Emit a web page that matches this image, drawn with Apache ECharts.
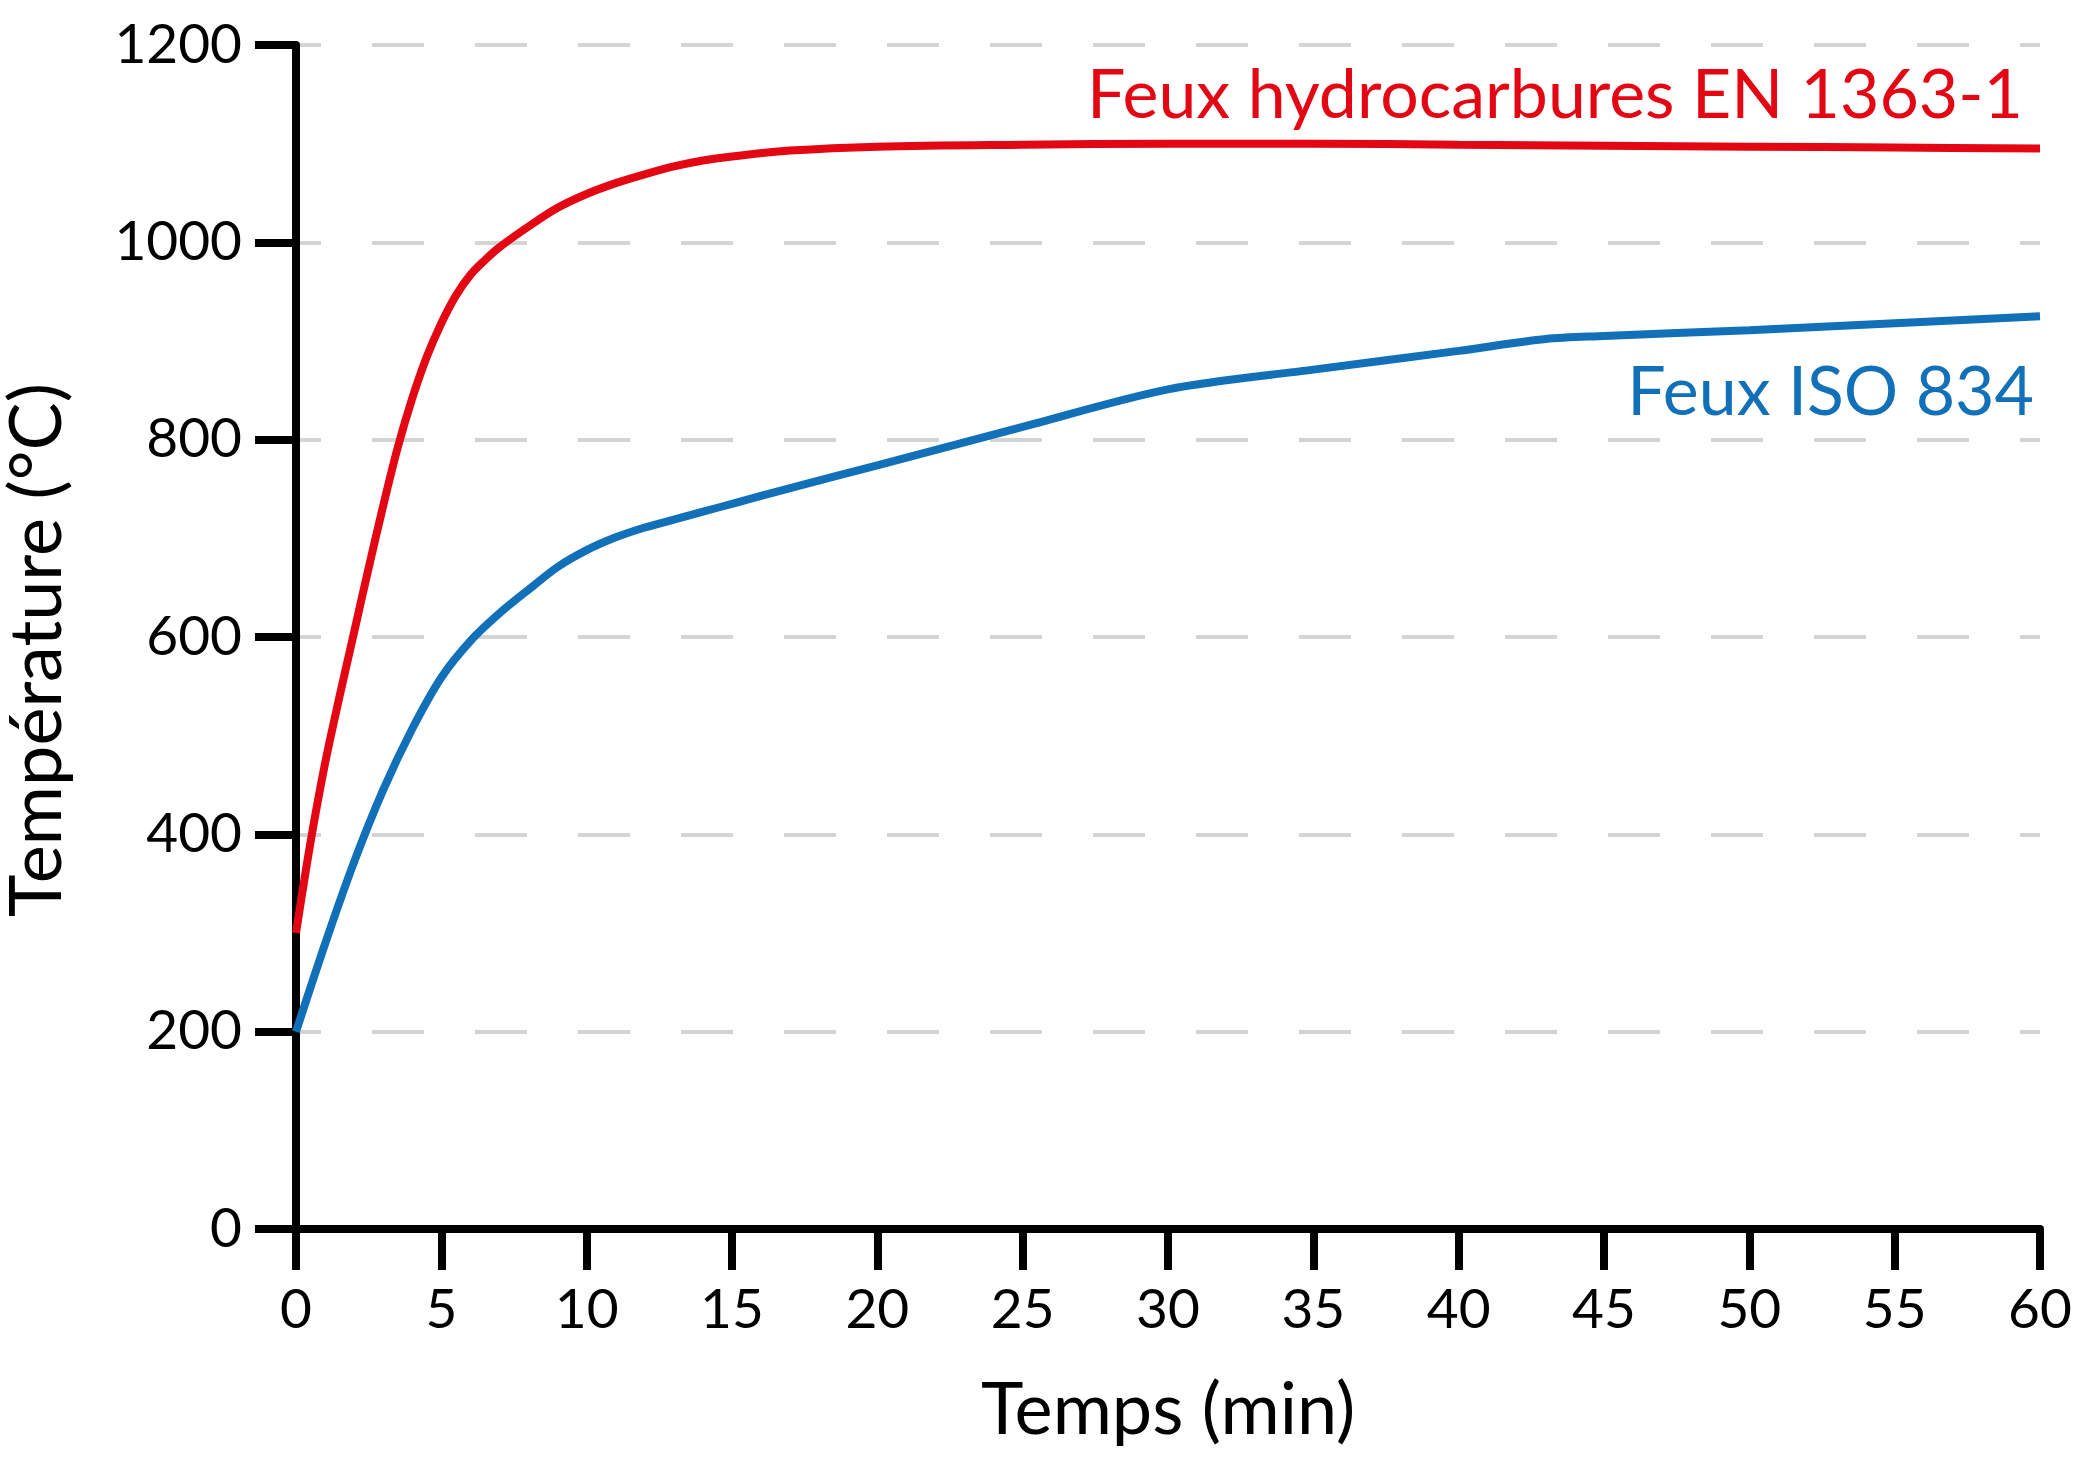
<!DOCTYPE html>
<html>
<head>
<meta charset="utf-8">
<script src="https://cdn.jsdelivr.net/npm/echarts@6/dist/echarts.min.js"></script>
<style>
html,body{margin:0;padding:0;background:#fff;}
#chart{width:2080px;height:1462px;}
</style>
</head>
<body>
<div id="chart"></div>
<script>
// ---- Data ----
const hydroTimes = [0, 0.5, 1, 1.5, 2, 2.5, 3, 3.5, 4, 4.5, 5, 5.5, 6, 6.5, 7, 8, 9, 10, 11, 12, 13, 14, 15, 17, 20, 25, 30, 35, 40, 45, 50, 55, 60];
const hydroTemps = [300, 392, 472, 540, 605, 670, 733, 792, 842, 884, 918, 946, 967, 982, 995, 1016, 1035, 1049, 1060, 1069, 1077, 1083, 1087, 1093, 1097, 1099, 1100, 1100, 1099, 1098, 1097, 1096, 1095];

const isoTimes = [0, 1, 2, 3, 4, 5, 6, 7, 8, 9, 10, 11, 12, 13, 14, 15, 17, 20, 25, 30, 35, 40, 43, 45, 50, 55, 60];
const isoTemps = [200, 289, 372, 445, 507, 559, 596, 624, 648, 671, 688, 701, 711, 719, 727, 735, 751, 774, 813, 851, 871, 890, 902, 905, 911, 918, 925];

const xTicks = [0, 5, 10, 15, 20, 25, 30, 35, 40, 45, 50, 55, 60];
const yTicks = [0, 200, 400, 600, 800, 1000, 1200];

const hydroName = 'Feux hydrocarbures EN 1363-1';
const isoName = 'Feux ISO 834';
const xName = 'Temps (min)';
const yName = 'Température (°C)';

// ---- Chart ----
const FONT = 'Lato, "Open Sans", sans-serif';
const RED = '#e30613';
const BLUE = '#1170b7';

const chart = echarts.init(document.getElementById('chart'), null, {renderer: 'canvas'});

const hydroData = hydroTimes.map((t, i) => [t, hydroTemps[i]]);
const isoData = isoTimes.map((t, i) => [t, isoTemps[i]]);

const option = {
  backgroundColor: '#ffffff',
  animation: false,
  grid: {left: 296, right: 40, top: 45, bottom: 233, containLabel: false, outerBoundsMode: 'none'},
  xAxis: {
    type: 'value',
    min: xTicks[0],
    max: xTicks[xTicks.length - 1],
    interval: 5,
    name: xName,
    nameLocation: 'middle',
    nameGap: 146,
    nameTextStyle: {fontFamily: FONT, fontSize: 72, color: '#000'},
    axisLine: {show: true, onZero: false, lineStyle: {color: '#000', width: 8}},
    axisTick: {show: true, length: 41, lineStyle: {color: '#000', width: 8}},
    axisLabel: {fontFamily: FONT, fontSize: 55, color: '#000', margin: 54, formatter: v => String(v)},
    splitLine: {show: false}
  },
  yAxis: {
    type: 'value',
    min: yTicks[0],
    max: yTicks[yTicks.length - 1],
    interval: 200,
    name: yName,
    nameLocation: 'middle',
    nameGap: 222,
    nameTextStyle: {fontFamily: FONT, fontSize: 72, color: '#000', padding: [0, 26, 0, 0]},
    axisLine: {show: true, onZero: false, lineStyle: {color: '#000', width: 8}},
    axisTick: {show: true, length: 41, lineStyle: {color: '#000', width: 8}},
    axisLabel: {fontFamily: FONT, fontSize: 55, color: '#000', margin: 54, formatter: v => String(v)},
    splitLine: {show: true, lineStyle: {color: '#d4d4d4', width: 4, type: [52, 51], dashOffset: 27}}
  },
  series: [
    {
      name: hydroName,
      type: 'line',
      data: hydroData,
      symbol: 'none',
      smooth: 0.35,
      lineStyle: {color: RED, width: 8, cap: 'butt'},
      z: 3
    },
    {
      name: isoName,
      type: 'line',
      data: isoData,
      symbol: 'none',
      smooth: 0.3,
      lineStyle: {color: BLUE, width: 8, cap: 'butt'},
      z: 3
    }
  ],
  graphic: [
    {
      type: 'text',
      right: 57,
      top: 62,
      style: {text: hydroName, fill: RED, font: '68px ' + FONT}
    },
    {
      type: 'text',
      right: 46,
      top: 359,
      style: {text: isoName, fill: BLUE, font: '68px ' + FONT}
    }
  ]
};

chart.setOption(option);
</script>
</body>
</html>
